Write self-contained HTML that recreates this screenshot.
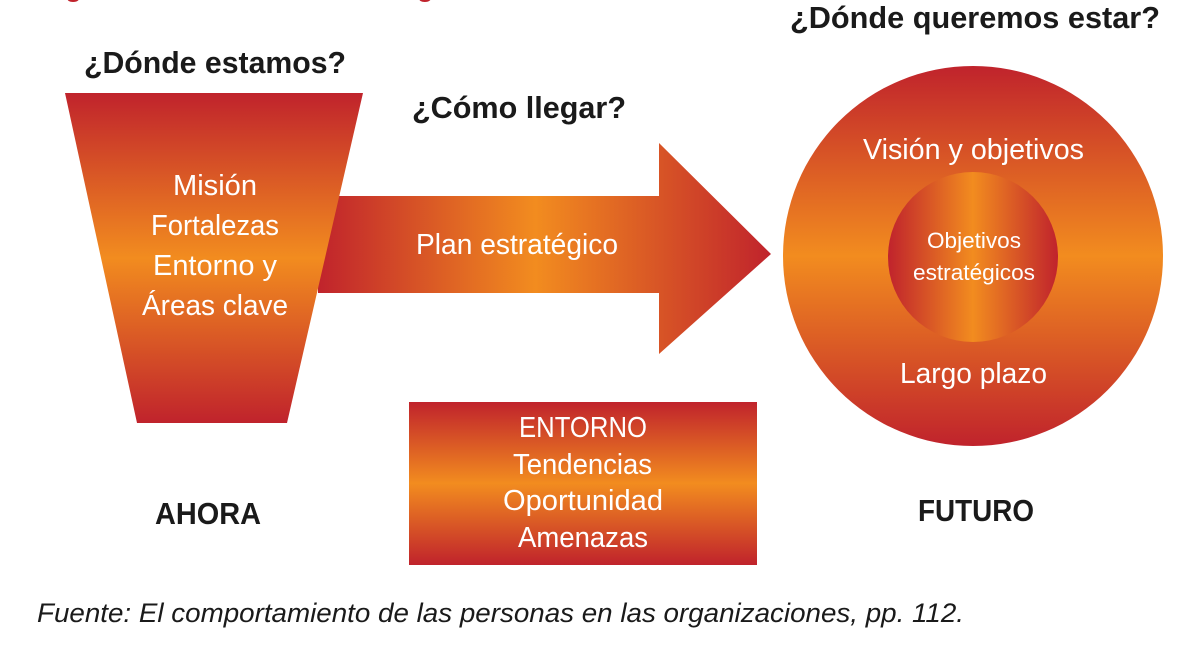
<!DOCTYPE html>
<html><head><meta charset="utf-8"><style>
html,body{margin:0;padding:0;background:#fff;width:1200px;height:665px;overflow:hidden}
svg{display:block}
text{font-family:"Liberation Sans Narrow","Liberation Sans",sans-serif}
</style></head><body>
<svg width="1200" height="665" viewBox="0 0 1200 665" xmlns="http://www.w3.org/2000/svg">
<defs>
<linearGradient id="v" x1="0" y1="0" x2="0" y2="1">
<stop offset="0" stop-color="#c0232c"/><stop offset="0.5" stop-color="#f28c1f"/><stop offset="1" stop-color="#c0232c"/></linearGradient>
<linearGradient id="h" x1="0" y1="0" x2="1" y2="0">
<stop offset="0" stop-color="#c0232c"/><stop offset="0.5" stop-color="#f28c1f"/><stop offset="1" stop-color="#c0232c"/></linearGradient>
<linearGradient id="ah" gradientUnits="userSpaceOnUse" x1="318" y1="0" x2="771" y2="0">
<stop offset="0" stop-color="#c0232c"/><stop offset="0.48" stop-color="#f28c1f"/><stop offset="1" stop-color="#c0232c"/></linearGradient>
</defs>
<text x="40" y="-4" font-size="28" font-weight="bold" fill="#c0232c">Figura — Planeación estratégica</text>
<polygon points="318,196 659,196 659,143 771,254 659,354 659,293 318,293" fill="url(#ah)"/>
<polygon points="65,93 363,93 287,423 137,423" fill="url(#v)"/>
<circle cx="973" cy="256" r="190" fill="url(#v)"/>
<circle cx="973" cy="257" r="85" fill="url(#h)"/>
<rect x="409" y="402" width="348" height="163" fill="url(#v)"/>
<g font-weight="bold" fill="#1a1a1a" font-size="31">
<text x="84" y="73" textLength="262" lengthAdjust="spacingAndGlyphs">¿Dónde estamos?</text>
<text x="412" y="118" textLength="214" lengthAdjust="spacingAndGlyphs">¿Cómo llegar?</text>
<text x="790" y="28" textLength="370" lengthAdjust="spacingAndGlyphs">¿Dónde queremos estar?</text>
<text x="155" y="524" textLength="106" lengthAdjust="spacingAndGlyphs">AHORA</text>
<text x="918" y="521" textLength="116" lengthAdjust="spacingAndGlyphs">FUTURO</text>
</g>
<g fill="#fff" font-size="29">
<text x="173" y="195" textLength="84" lengthAdjust="spacingAndGlyphs">Misión</text>
<text x="151" y="235" textLength="128" lengthAdjust="spacingAndGlyphs">Fortalezas</text>
<text x="153" y="275" textLength="124" lengthAdjust="spacingAndGlyphs">Entorno y</text>
<text x="142" y="315" textLength="146" lengthAdjust="spacingAndGlyphs">Áreas clave</text>
<text x="416" y="254" textLength="202" lengthAdjust="spacingAndGlyphs">Plan estratégico</text>
<text x="863" y="159" textLength="221" lengthAdjust="spacingAndGlyphs">Visión y objetivos</text>
<text x="900" y="383" textLength="147" lengthAdjust="spacingAndGlyphs">Largo plazo</text>
<text x="519" y="437" textLength="128" lengthAdjust="spacingAndGlyphs">ENTORNO</text>
<text x="513" y="474" textLength="139" lengthAdjust="spacingAndGlyphs">Tendencias</text>
<text x="503" y="510" textLength="160" lengthAdjust="spacingAndGlyphs">Oportunidad</text>
<text x="518" y="547" textLength="130" lengthAdjust="spacingAndGlyphs">Amenazas</text>
<text x="927" y="248" font-size="22" textLength="94" lengthAdjust="spacingAndGlyphs">Objetivos</text>
<text x="913" y="280" font-size="22" textLength="122" lengthAdjust="spacingAndGlyphs">estratégicos</text>
</g>
<text x="37" y="622" font-size="27" font-style="italic" fill="#1a1a1a" textLength="927" lengthAdjust="spacingAndGlyphs">Fuente: El comportamiento de las personas en las organizaciones, pp. 112.</text>
</svg>
</body></html>
